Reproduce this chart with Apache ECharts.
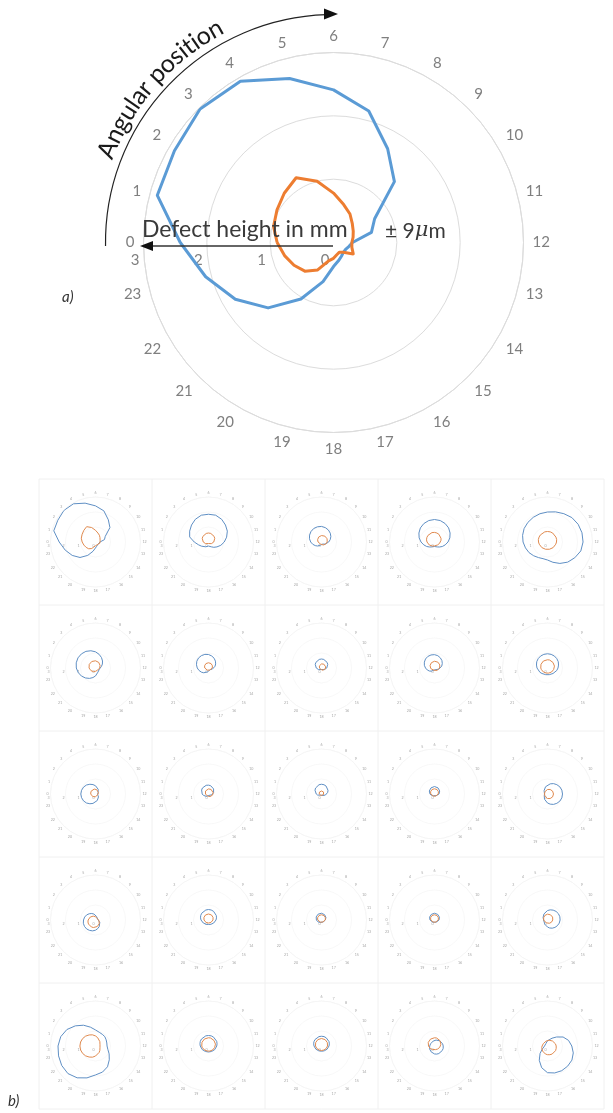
<!DOCTYPE html>
<html><head><meta charset="utf-8">
<script src="https://cdn.jsdelivr.net/npm/echarts@6/dist/echarts.min.js"></script>
<style>html,body{margin:0;padding:0;background:#fff;}#c{width:613px;height:1113px;}</style>
</head><body><div id="c"></div>
<script>
// ---------- data ----------
const angleTicks = ['0','1','2','3','4','5','6','7','8','9','10','11','12','13','14','15','16','17','18','19','20','21','22','23'];
const radiusTicks = [0, 1, 2, 3];
// main chart (a): defect height in mm at 24 angular positions
const mainBlue   = [2.42,2.88,2.9,2.98,2.94,2.68,2.41,2.15,1.71,1.36,0.75,0.62,0.3,0.25,0.22,0.22,0.25,0.3,0.38,0.64,1.03,1.46,1.79,2.09];
const mainOrange = [0.89,0.98,1.03,1.1,1.18,1.0,0.78,0.62,0.52,0.42,0.36,0.32,0.29,0.3,0.36,0.22,0.18,0.2,0.25,0.3,0.5,0.64,0.72,0.8];
// small multiples (b): 5 x 5, row by row
const smallBlue = [
  mainBlue,
  [.95,1.3,1.45,1.6,1.75,1.85,1.85,1.85,1.75,1.6,1.45,1.25,1.05,.85,.65,.5,.37,.3,.27,.3,.37,.45,.55,.7],
  [.72,.83,.92,.99,1.04,1.05,1.04,.99,.92,.83,.72,.6,.48,.38,.28,.21,.16,.15,.16,.21,.28,.38,.48,.6],
  [.9,1.06,1.2,1.33,1.42,1.48,1.5,1.48,1.42,1.33,1.2,1.06,.9,.74,.6,.47,.38,.32,.3,.32,.38,.47,.6,.74],
  [1.63,1.72,1.8,1.85,1.9,1.95,2.0,2.08,2.18,2.3,2.36,2.38,2.37,2.3,2.1,1.9,1.65,1.4,1.2,1.15,1.2,1.3,1.42,1.52],
  [1.28,1.33,1.35,1.33,1.28,1.19,1.08,.94,.8,.66,.53,.41,.32,.27,.25,.27,.32,.41,.53,.66,.8,.94,1.08,1.19],
  [.75,.83,.9,.94,.95,.94,.9,.83,.75,.65,.55,.45,.35,.27,.2,.16,.15,.16,.2,.27,.35,.45,.55,.65],
  [.35,.42,.48,.53,.57,.59,.6,.59,.57,.53,.48,.42,.35,.28,.22,.17,.13,.11,.1,.11,.13,.17,.22,.28],
  [.6,.7,.78,.85,.89,.9,.89,.85,.78,.7,.6,.5,.4,.3,.22,.15,.11,.1,.11,.15,.22,.3,.4,.5],
  [.7,.76,.83,.88,.92,.94,.95,.94,.92,.88,.83,.76,.7,.64,.58,.52,.48,.46,.45,.46,.48,.52,.58,.64],
  [.98,.96,.92,.85,.75,.65,.55,.45,.36,.28,.2,.15,.13,.15,.2,.28,.36,.45,.55,.65,.75,.85,.92,.96],
  [.42,.48,.53,.57,.59,.6,.59,.57,.53,.48,.42,.35,.28,.22,.17,.13,.11,.1,.11,.13,.17,.22,.28,.35],
  [.35,.43,.5,.56,.61,.64,.65,.64,.61,.56,.5,.43,.35,.27,.2,.14,.09,.06,.05,.06,.09,.14,.2,.27],
  [.3,.35,.4,.44,.47,.49,.5,.49,.47,.44,.4,.35,.3,.25,.2,.16,.13,.11,.1,.11,.13,.16,.2,.25],
  [.2,.21,.25,.32,.4,.5,.6,.7,.8,.88,.95,.99,1.0,.99,.95,.88,.8,.7,.6,.5,.4,.32,.25,.21],
  [.8,.75,.68,.59,.5,.41,.33,.25,.2,.16,.15,.16,.2,.25,.33,.41,.5,.59,.68,.75,.8,.84,.85,.84],
  [.5,.55,.6,.64,.67,.69,.7,.69,.67,.64,.6,.55,.5,.45,.4,.36,.33,.31,.3,.31,.33,.36,.4,.45],
  [.34,.38,.41,.43,.45,.45,.45,.43,.41,.38,.34,.3,.26,.23,.19,.17,.15,.15,.15,.17,.19,.23,.26,.3],
  [.3,.34,.38,.41,.43,.45,.45,.45,.43,.41,.38,.34,.3,.26,.23,.19,.17,.15,.15,.15,.17,.19,.23,.26],
  [.26,.29,.34,.4,.47,.55,.63,.7,.76,.81,.84,.85,.84,.81,.76,.7,.63,.55,.47,.4,.34,.29,.26,.25],
  [2.5,2.4,2.2,1.9,1.6,1.3,1.07,.95,.9,.88,.82,.78,.77,.85,1.05,1.3,1.6,1.8,1.93,2.2,2.45,2.6,2.6,2.55],
  [.55,.59,.63,.66,.68,.7,.7,.7,.68,.66,.63,.59,.55,.51,.48,.44,.42,.4,.4,.4,.42,.44,.48,.51],
  [.5,.54,.58,.61,.63,.65,.65,.65,.63,.61,.58,.54,.5,.46,.43,.39,.37,.35,.35,.35,.37,.39,.43,.46],
  [.32,.3,.3,.3,.32,.34,.38,.41,.45,.49,.53,.56,.58,.6,.6,.6,.58,.56,.53,.49,.45,.41,.38,.34],
  [.2,.18,.17,.17,.2,.25,.35,.45,.6,.85,1.2,1.45,1.62,1.78,1.88,1.9,1.9,1.86,1.78,1.5,1.1,.7,.4,.25]
];
const smallOrange = [
  mainOrange,
  [.35,.42,.48,.53,.57,.59,.6,.59,.57,.53,.48,.42,.35,.28,.22,.17,.13,.11,.1,.11,.13,.17,.22,.28],
  [.23,.26,.3,.34,.38,.41,.43,.45,.45,.45,.43,.41,.38,.34,.3,.26,.23,.19,.17,.15,.15,.15,.17,.19],
  [.5,.55,.59,.62,.64,.65,.64,.62,.59,.55,.5,.45,.4,.35,.31,.28,.26,.25,.26,.28,.31,.35,.4,.45],
  [.6,.63,.65,.67,.69,.7,.7,.7,.69,.67,.65,.63,.6,.57,.55,.53,.51,.5,.5,.5,.51,.53,.55,.57],
  [.43,.46,.48,.5,.5,.5,.48,.46,.43,.39,.35,.31,.28,.24,.22,.2,.2,.2,.22,.24,.28,.31,.35,.39],
  [.25,.28,.3,.32,.34,.35,.35,.35,.34,.32,.3,.28,.25,.22,.2,.18,.16,.15,.15,.15,.16,.18,.2,.22],
  [.13,.15,.17,.2,.23,.25,.27,.29,.3,.3,.3,.29,.27,.25,.23,.2,.17,.15,.13,.11,.1,.1,.1,.11],
  [.26,.3,.34,.38,.41,.43,.45,.45,.45,.43,.41,.38,.34,.3,.26,.23,.19,.17,.15,.15,.15,.17,.19,.23],
  [.45,.48,.5,.52,.54,.55,.55,.55,.54,.52,.5,.48,.45,.42,.4,.38,.36,.35,.35,.35,.36,.38,.4,.42],
  [.32,.34,.35,.35,.35,.34,.32,.3,.28,.25,.22,.2,.18,.16,.15,.15,.15,.16,.18,.2,.22,.25,.28,.3],
  [.2,.22,.25,.28,.3,.32,.34,.35,.35,.35,.34,.32,.3,.28,.25,.22,.2,.18,.16,.15,.15,.15,.16,.18],
  [.15,.16,.18,.19,.19,.2,.2,.2,.19,.19,.18,.16,.15,.14,.13,.11,.11,.1,.1,.1,.11,.11,.13,.14],
  [.25,.28,.3,.32,.34,.35,.35,.35,.34,.32,.3,.28,.25,.22,.2,.18,.16,.15,.15,.15,.16,.18,.2,.22],
  [.2,.2,.21,.23,.25,.27,.3,.33,.35,.37,.39,.4,.4,.4,.39,.37,.35,.33,.3,.27,.25,.23,.21,.2],
  [.49,.45,.4,.35,.3,.25,.21,.18,.16,.15,.16,.18,.21,.25,.3,.35,.4,.45,.49,.52,.54,.55,.54,.52],
  [.3,.33,.35,.37,.39,.4,.4,.4,.39,.37,.35,.33,.3,.27,.25,.23,.21,.2,.2,.2,.21,.23,.25,.27],
  [.25,.28,.3,.32,.34,.35,.35,.35,.34,.32,.3,.28,.25,.22,.2,.18,.16,.15,.15,.15,.16,.18,.2,.22],
  [.25,.28,.3,.32,.34,.35,.35,.35,.34,.32,.3,.28,.25,.22,.2,.18,.16,.15,.15,.15,.16,.18,.2,.22],
  [.25,.27,.3,.33,.35,.37,.39,.4,.4,.4,.39,.37,.35,.33,.3,.27,.25,.23,.21,.2,.2,.2,.21,.23],
  [1.04,1.03,.99,.93,.85,.77,.67,.57,.49,.41,.35,.31,.3,.31,.35,.41,.49,.57,.67,.77,.85,.93,.99,1.03],
  [.45,.48,.5,.52,.54,.55,.55,.55,.54,.52,.5,.48,.45,.42,.4,.38,.36,.35,.35,.35,.36,.38,.4,.42],
  [.4,.43,.45,.47,.49,.5,.5,.5,.49,.47,.45,.43,.4,.37,.35,.33,.31,.3,.3,.3,.31,.33,.35,.37],
  [.4,.44,.48,.51,.53,.55,.55,.55,.53,.51,.48,.44,.4,.36,.33,.29,.27,.25,.25,.25,.27,.29,.33,.36],
  [.36,.34,.32,.32,.32,.34,.36,.4,.43,.47,.51,.55,.58,.6,.62,.62,.62,.6,.58,.55,.51,.47,.43,.4]
];

// ---------- layout ----------
const BLUE = '#5b9bd5', ORANGE = '#ed7d31', GRID = '#dcdcdc', LABEL = '#7f7f7f';
const MAIN_C = [333.5, 242.5], MAIN_R = 190;
const colX = [95.5, 208.5, 321.5, 434.5, 547.5];
const rowY = [542, 668, 794, 920, 1046];
const cellW = 113, cellH = 126;
const SMALL_R = 45;

function closed(vals) {
  const d = vals.map((v, k) => [v, k]);
  d.push([vals[0], 24]);
  return d;
}
const angleFmt = v => (angleTicks[v] !== undefined ? angleTicks[v] : '');

const polar = [{ center: MAIN_C, radius: MAIN_R }];
const angleAxis = [{
  polarIndex: 0, type: 'value', min: 0, max: 24, interval: 1, startAngle: 180, clockwise: true,
  axisLine: { lineStyle: { color: GRID, width: 1 } }, axisTick: { show: false }, splitLine: { show: false },
  axisLabel: { color: LABEL, fontSize: 15, fontFamily: 'Lato', margin: 9, formatter: angleFmt }
}];
const radiusAxis = [{
  polarIndex: 0, type: 'value', min: radiusTicks[0], max: radiusTicks[radiusTicks.length - 1], interval: 1,
  axisLine: { show: false }, axisTick: { show: false },
  splitLine: { show: true, lineStyle: { color: GRID, width: 1 } },
  axisLabel: { color: LABEL, fontSize: 15, fontFamily: 'Lato', margin: 10, padding: [0, 17, 0, 0] }
}];
const series = [
  { type: 'line', coordinateSystem: 'polar', polarIndex: 0, data: closed(mainBlue), symbol: 'none',
    lineStyle: { color: BLUE, width: 3, join: 'round' }, silent: true, z: 3 },
  { type: 'line', coordinateSystem: 'polar', polarIndex: 0, data: closed(mainOrange), symbol: 'none',
    lineStyle: { color: ORANGE, width: 3, join: 'round' }, silent: true, z: 4 }
];

for (let i = 0; i < 25; i++) {
  const r = Math.floor(i / 5), c = i % 5, pi = i + 1;
  polar.push({ center: [colX[c], rowY[r]], radius: SMALL_R });
  angleAxis.push({
    polarIndex: pi, type: 'value', min: 0, max: 24, interval: 1, startAngle: 180, clockwise: true,
    axisLine: { lineStyle: { color: '#f4f4f4', width: 0.6 } }, axisTick: { show: false }, splitLine: { show: false },
    axisLabel: { color: '#a6a6a6', fontSize: 3.6, fontFamily: 'Lato', margin: 2, formatter: angleFmt }
  });
  radiusAxis.push({
    polarIndex: pi, type: 'value', min: 0, max: 3, interval: 1,
    axisLine: { show: false }, axisTick: { show: false },
    splitLine: { show: true, lineStyle: { color: '#f4f4f4', width: 0.6 } },
    axisLabel: { color: '#a6a6a6', fontSize: 3.6, fontFamily: 'Lato', margin: 2, padding: [0, 4, 0, 0] }
  });
  series.push({ type: 'line', coordinateSystem: 'polar', polarIndex: pi, data: closed(smallBlue[i]), symbol: 'none',
    lineStyle: { color: '#5f8fc4', width: 1, join: 'round' }, silent: true, z: 3 });
  series.push({ type: 'line', coordinateSystem: 'polar', polarIndex: pi, data: closed(smallOrange[i]), symbol: 'none',
    lineStyle: { color: '#e08a4f', width: 1, join: 'round' }, silent: true, z: 4 });
}

// ---------- annotations ----------
const graphic = [];
// cell borders
const gx0 = colX[0] - cellW / 2, gy0 = rowY[0] - cellH / 2;
for (let c = 0; c <= 5; c++) {
  const x = gx0 + c * cellW;
  graphic.push({ type: 'line', silent: true, z: 0, shape: { x1: x, y1: gy0, x2: x, y2: gy0 + 5 * cellH }, style: { stroke: '#f0f0f0', lineWidth: 1 } });
}
for (let r = 0; r <= 5; r++) {
  const y = gy0 + r * cellH;
  graphic.push({ type: 'line', silent: true, z: 0, shape: { x1: gx0, y1: y, x2: gx0 + 5 * cellW, y2: y }, style: { stroke: '#f0f0f0', lineWidth: 1 } });
}
// curved arrow
const ARC_R = 228;
graphic.push({ type: 'arc', silent: true, z: 10,
  shape: { cx: MAIN_C[0], cy: MAIN_C[1], r: ARC_R, startAngle: Math.PI * 0.995, endAngle: Math.PI * 1.49, clockwise: true },
  style: { stroke: '#222', lineWidth: 1.2, fill: null } });
graphic.push({ type: 'polygon', silent: true, z: 10,
  shape: { points: [[338, 14], [324, 8.5], [324, 19.5]] }, style: { fill: '#111' } });
// curved text "Angular position"
(function () {
  const txt = 'Angular position';
  const fs = 25, font = fs + 'px Lato';
  const cv = document.createElement('canvas').getContext('2d');
  cv.font = font;
  const ws = [...txt].map(ch => cv.measureText(ch).width);
  const total = ws.reduce((a, b) => a + b, 0);
  const RT = 244, mid = 138.5;
  let s = -total / 2;
  [...txt].forEach((ch, i) => {
    const pos = s + ws[i] / 2; s += ws[i];
    const a = mid - (pos / RT) * 180 / Math.PI;
    const ar = a * Math.PI / 180;
    const x = MAIN_C[0] + RT * Math.cos(ar), y = MAIN_C[1] - RT * Math.sin(ar);
    graphic.push({ type: 'text', silent: true, z: 10, x: x, y: y, rotation: (a - 90) * Math.PI / 180,
      style: { text: ch, font: font, fill: '#1a1a1a', align: 'center', verticalAlign: 'middle' } });
  });
})();
// "Defect height in mm" with arrow
graphic.push({ type: 'text', silent: true, z: 10, x: 142, y: 230,
  style: { text: 'Defect height in mm', font: '23px Lato', fill: '#3a3a3a', align: 'left', verticalAlign: 'middle' } });
graphic.push({ type: 'line', silent: true, z: 10, shape: { x1: 150, y1: 246, x2: 333, y2: 246 }, style: { stroke: '#333', lineWidth: 1.4 } });
graphic.push({ type: 'polygon', silent: true, z: 10, shape: { points: [[140, 246], [153, 241], [153, 251]] }, style: { fill: '#111' } });
graphic.push({ type: 'text', silent: true, z: 10, x: 385, y: 231,
  style: { text: '± 9{i|μ}m', font: '21px Lato', fill: '#3a3a3a', align: 'left', verticalAlign: 'middle',
    rich: { i: { font: 'italic 21px "DejaVu Serif"', fill: '#3a3a3a' } } } });
graphic.push({ type: 'text', silent: true, z: 10, x: 62, y: 297,
  style: { text: 'a)', font: 'italic 15px Lato', fill: '#333', align: 'left', verticalAlign: 'middle' } });
graphic.push({ type: 'text', silent: true, z: 10, x: 8, y: 1101,
  style: { text: 'b)', font: 'italic 15px Lato', fill: '#333', align: 'left', verticalAlign: 'middle' } });

const chart = echarts.init(document.getElementById('c'), null, { renderer: 'canvas' });
chart.setOption({ animation: false, backgroundColor: '#fff', polar, angleAxis, radiusAxis, series, graphic });
</script></body></html>
